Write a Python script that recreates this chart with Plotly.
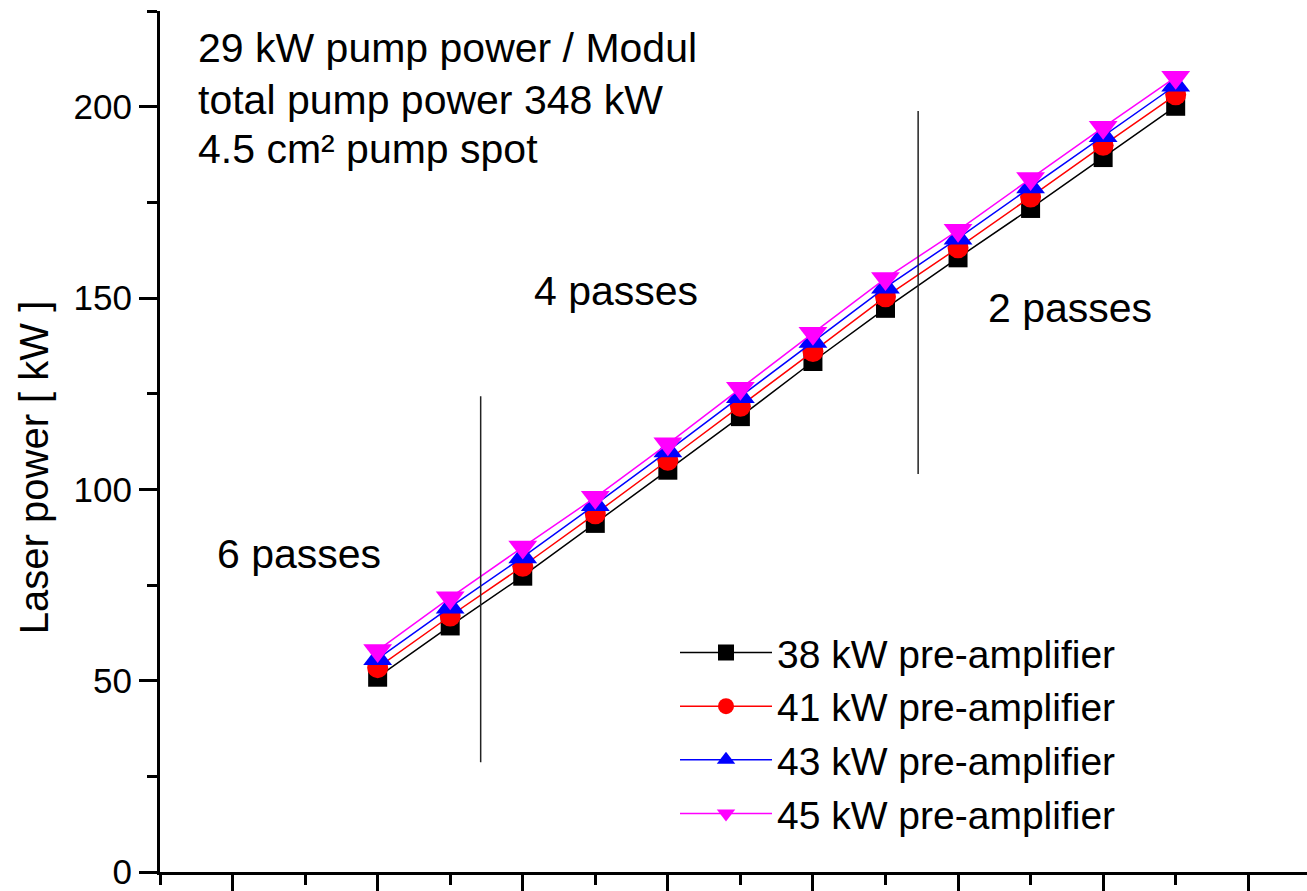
import plotly.graph_objects as go

# x: module / stage index (x tick labels are cropped in the reference)
stages = [1, 2, 3, 4, 5, 6, 7, 8, 9, 10, 11, 12]

p38 = [50.9, 64.3, 77.3, 91.1, 105.0, 119.0, 133.4, 147.3, 160.5, 173.4, 186.7, 200.1]
p41 = [53.4, 66.9, 79.9, 93.6, 107.6, 121.7, 136.0, 150.3, 163.1, 176.4, 189.9, 203.1]
p43 = [55.7, 69.2, 82.3, 96.0, 110.0, 124.2, 138.6, 152.8, 165.6, 179.0, 192.4, 205.6]
p45 = [57.9, 71.7, 84.9, 97.9, 111.9, 126.4, 140.8, 155.1, 167.7, 181.2, 194.6, 207.7]

series_names = ["38 kW pre-amplifier", "41 kW pre-amplifier",
                "43 kW pre-amplifier", "45 kW pre-amplifier"]

# divider lines between pass regimes
divider_x = [2.42, 8.45]
divider_y0 = [28.7, 104.0]
divider_y1 = [124.3, 198.9]

pass_labels = ["6 passes", "4 passes", "2 passes"]
pass_x = [-0.08, 4.28, 10.55]
pass_y = [83.2, 151.7, 147.3]

header_lines = ["29 kW pump power / Modul", "total pump power 348 kW", "4.5 cm² pump spot"]
header_y = [0.957, 0.897, 0.84]

FONT = "Liberation Sans, Arial, sans-serif"

fig = go.Figure()
styles = [
    ("#000000", "square", 19),
    ("#ff0000", "circle", 21),
    ("#0000ff", "triangle-up", 25),
    ("#ff00ff", "triangle-down", 25),
]
for name, ys, (col, sym, sz) in zip(series_names, [p38, p41, p43, p45], styles):
    fig.add_trace(go.Scatter(
        x=stages, y=ys, name=name, mode="lines+markers",
        line=dict(color=col, width=1.5),
        marker=dict(color=col, symbol=sym, size=sz, line=dict(width=0)),
    ))

for x, y0, y1 in zip(divider_x, divider_y0, divider_y1):
    fig.add_shape(type="line", xref="x", yref="y", x0=x, x1=x, y0=y0, y1=y1,
                  line=dict(color="#222222", width=1.5))

for t, x, y in zip(pass_labels, pass_x, pass_y):
    fig.add_annotation(text=t, x=x, y=y, xref="x", yref="y", showarrow=False,
                       font=dict(size=41, color="black", family=FONT),
                       xanchor="center", yanchor="middle")

for t, y in zip(header_lines, header_y):
    fig.add_annotation(text=t, x=0.031, y=y, xref="paper", yref="paper",
                       showarrow=False, align="left", xanchor="left", yanchor="middle",
                       font=dict(size=41, color="black", family=FONT))

# y-axis title (placed as rotated annotation to match the off-centre position)
fig.add_annotation(text="Laser power [ kW ]", x=-0.11, y=0.47, xref="paper", yref="paper",
                   showarrow=False, textangle=-90, xanchor="center", yanchor="middle",
                   font=dict(size=40, color="black", family=FONT))

fig.update_layout(
    width=1307, height=891,
    margin=dict(l=160, r=0, t=11, b=16),
    paper_bgcolor="white", plot_bgcolor="white",
    font=dict(family=FONT, color="black"),
    showlegend=True,
    legend=dict(x=0.449, y=0.292, xanchor="left", yanchor="top",
                font=dict(size=39, family=FONT, color="black"),
                bgcolor="rgba(0,0,0,0)", itemwidth=92, tracegroupgap=0),
    xaxis=dict(range=[-2, 13.81], showgrid=False, zeroline=False,
               showline=True, linecolor="black", linewidth=3,
               ticks="outside", ticklen=18, tickwidth=3, tickcolor="black",
               tick0=1, dtick=2, showticklabels=False,
               minor=dict(ticks="outside", ticklen=10, tickwidth=3,
                          tickcolor="black", tick0=0, dtick=1)),
    yaxis=dict(range=[0, 225], showgrid=False, zeroline=False,
               showline=True, linecolor="black", linewidth=3,
               ticks="outside", ticklen=18, tickwidth=3, tickcolor="black",
               tick0=0, dtick=50, tickfont=dict(size=35, family=FONT),
               ticklabelstandoff=0, ticklabeloverflow="allow",
               minor=dict(ticks="outside", ticklen=10, tickwidth=3,
                          tickcolor="black", tick0=0, dtick=25)),
)

fig.write_html("out.html")
